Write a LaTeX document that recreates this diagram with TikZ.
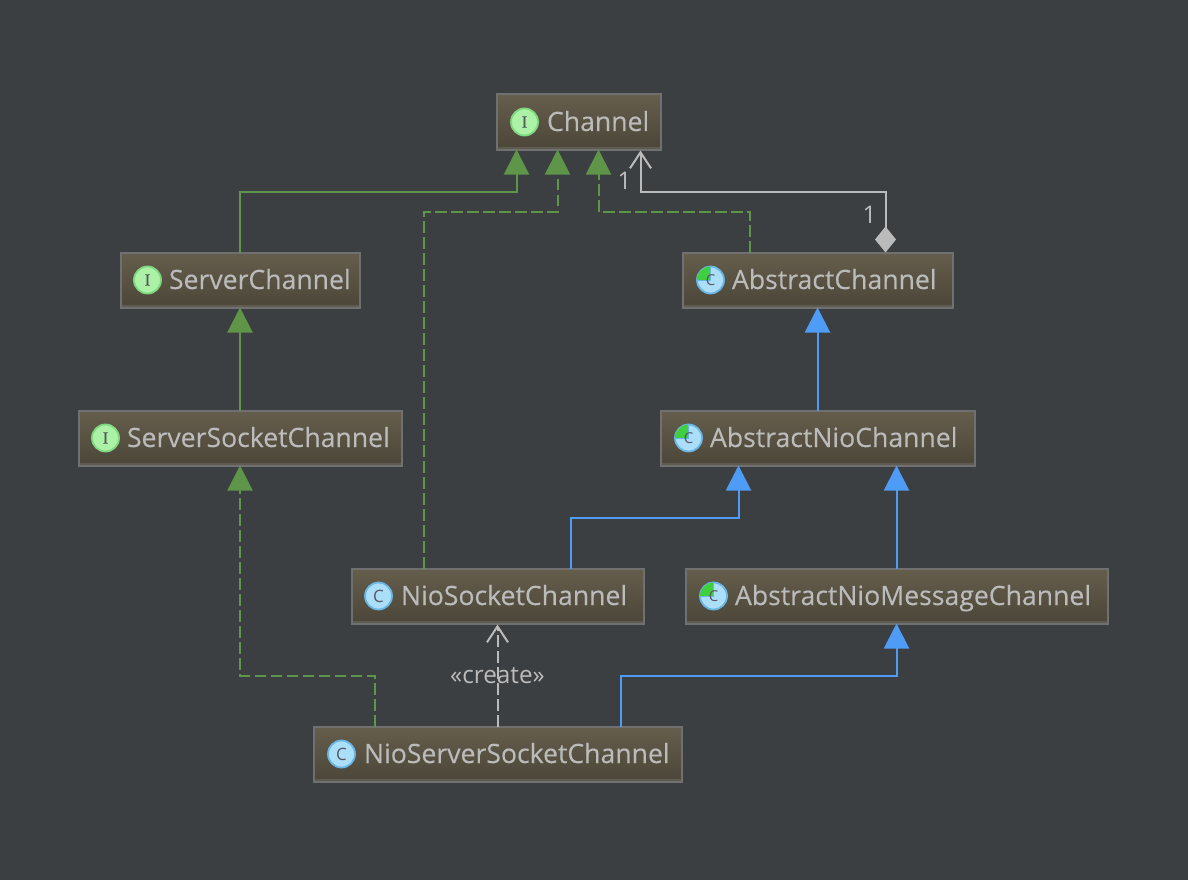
\documentclass[tikz,border=0pt]{standalone}
\usepackage{fontspec}
\setmainfont{Open Sans}
\newfontfamily\boxfont{Open Sans}[FakeBold=0.2]
\newfontfamily\iconserif{Liberation Serif}[FakeBold=0.3]
\usetikzlibrary{arrows.meta,calc}
\definecolor{bg}{HTML}{3C3F41}
\definecolor{boxtop}{HTML}{665E4C}
\definecolor{boxbot}{HTML}{4B4639}
\definecolor{boxline}{HTML}{707070}
\definecolor{boxband}{HTML}{5E5B50}
\definecolor{txt}{HTML}{BBBBBB}
\definecolor{grn}{HTML}{5F9548}
\definecolor{blu}{HTML}{4F9CF6}
\definecolor{icongreen}{HTML}{ABF2A6}
\definecolor{icongreenr}{HTML}{7FD87F}
\definecolor{iconblue}{HTML}{ABDFF9}
\definecolor{iconbluer}{HTML}{68B5E6}
\definecolor{quarter}{HTML}{3FCF3F}
\definecolor{iconink}{HTML}{5A5560}
\tikzset{
  uml/.style={draw=boxline,line width=2pt,top color=boxtop,bottom color=boxbot,
    text=txt,inner sep=0pt,outer sep=0pt,minimum height=55pt,font=\boxfont\fontsize{26.6}{28}\selectfont,
    path picture={\fill[boxband] ([yshift=3pt]path picture bounding box.south west) rectangle (path picture bounding box.south east);}},
  iconbase/.style={circle,line width=1.8pt,minimum size=27pt,inner sep=0pt,outer sep=0pt,text=iconink,font=\fontsize{17}{17}\selectfont},
  ifaceicon/.style={iconbase,draw=icongreenr,fill=icongreen,font=\iconserif\fontsize{17}{17}\selectfont},
  classicon/.style={iconbase,draw=iconbluer,fill=iconblue},
  solidgrn/.style={draw=grn,line width=2pt,-{Triangle[length=25pt,width=25pt,fill=grn]}},
  dashgrn/.style={solidgrn,dash pattern=on 11.5pt off 4.5pt},
  solidblu/.style={draw=blu,line width=2pt,-{Triangle[length=25pt,width=25pt,fill=blu]}},
  assoc/.style={draw=txt,line width=2pt,{Diamond[length=26pt,width=21pt,fill=txt]}-{Straight Barb[length=16pt,width=21pt,line width=2pt]}},
  dep/.style={draw=txt,line width=2pt,dash pattern=on 11.5pt off 4.5pt,-{Straight Barb[length=16pt,width=21pt,line width=2pt,sep=0pt]}},
  lbl/.style={text=txt,font=\fontsize{24.3}{26}\selectfont,inner sep=0pt},
}
% name, x1, y1, x2, y2, text offset, text
\newcommand{\umlbox}[7]{%
  \node[uml,minimum width={(#4-#2-1)*1pt}] (#1) at ({(#2+#4)/2},{(#3+#5)/2})
    {\makebox[{\dimexpr #4pt-#2pt-2pt\relax}][l]{\rule[-1pt]{0pt}{20pt}\hspace{#6pt}\smash{#7}}};}
\newcommand{\ifaceicon}[2]{\node[ifaceicon,anchor=center] (#1i) at ([xshift=#2pt]#1.west) {I};}
\newcommand{\classicon}[2]{\node[classicon,anchor=center] (#1i) at ([xshift=#2pt]#1.west) {C};}
\newcommand{\abstricon}[2]{%
  \node[iconbase,draw=iconbluer,fill=iconblue,anchor=center] (#1i) at ([xshift=#2pt]#1.west) {};
  \fill[quarter] (#1i.center) -- (#1i.west) arc[start angle=180,end angle=90,radius=13.5pt] -- cycle;
  \draw[iconbluer,line width=1pt] (#1i.center) -- (#1i.north);
  \draw[iconbluer,line width=1pt] (#1i.center) -- (#1i.west);
  \node[text=iconink,font=\fontsize{15}{15}\selectfont,inner sep=0pt] (#1c) at (#1i.center) {C};}
\begin{document}
\begin{tikzpicture}[x=1pt,y=-1pt]
\fill[bg] (0,0) rectangle (1188,880);
\useasboundingbox (0,0) rectangle (1188,880);
\umlbox{channel}{496}{94}{661}{150}{50}{Channel}
\umlbox{serverch}{120}{252}{360}{308}{48}{ServerChannel}
\umlbox{serversock}{78}{410}{402}{466}{48}{ServerSocketChannel}
\umlbox{abstractch}{682}{252}{953}{308}{49}{AbstractChannel}
\umlbox{abstractnio}{660}{410}{975}{466}{49}{AbstractNioChannel}
\umlbox{niosock}{351}{568}{644}{624}{49}{NioSocketChannel}
\umlbox{abstractmsg}{685}{568}{1108}{624}{49}{AbstractNioMessageChannel}
\umlbox{nioserver}{313}{726}{682}{782}{50}{NioServerSocketChannel}
\ifaceicon{channel}{28}
\ifaceicon{serverch}{27}
\ifaceicon{serversock}{27}
\abstricon{abstractch}{28}
\abstricon{abstractnio}{28}
\classicon{niosock}{27}
\abstricon{abstractmsg}{28}
\classicon{nioserver}{28}
% connectors
\draw[solidgrn] (serverch.north) -- ++(0,-61) -| ([xshift=20pt]channel.south west);
\draw[dashgrn] ([xshift=72.5pt]niosock.north west) -- ++(0,-357) -| ([xshift=61pt]channel.south west);
\draw[dashgrn] ([xshift=67pt]abstractch.north west) -- ++(0,-41) -| ([xshift=102pt]channel.south west);
\draw[assoc] ([xshift=203pt]abstractch.north west) -- ++(0,-61) -| node[lbl,pos=0,anchor=center,xshift=-16pt,yshift=-23pt] (mult2) {1} ([xshift=144pt,yshift=-1pt]channel.south west);
\node[lbl,anchor=center] (mult1) at ([xshift=128pt,yshift=-31pt]channel.south west) {1};
\draw[solidgrn] (serversock.north) -- (serverch.south);
\draw[dashgrn] ([xshift=61.5pt]nioserver.north west) -- ++(0,-51) -| (serversock.south);
\draw[dep] ([xshift=184pt]nioserver.north west) -- node[lbl,anchor=center,pos=0.5] (create) {«create»} ([xshift=146pt,yshift=-1pt]niosock.south west);
\draw[solidblu] ([xshift=307.5pt]nioserver.north west) -- ++(0,-51) -| ([xshift=211pt]abstractmsg.south west);
\draw[solidblu] ([xshift=219.5pt]niosock.north west) -- ++(0,-51) -| ([xshift=78pt]abstractnio.south west);
\draw[solidblu] ([xshift=211pt]abstractmsg.north west) -- ([xshift=236pt]abstractnio.south west);
\draw[solidblu] ([xshift=157pt]abstractnio.north west) -- ([xshift=135pt]abstractch.south west);
\end{tikzpicture}
\end{document}
